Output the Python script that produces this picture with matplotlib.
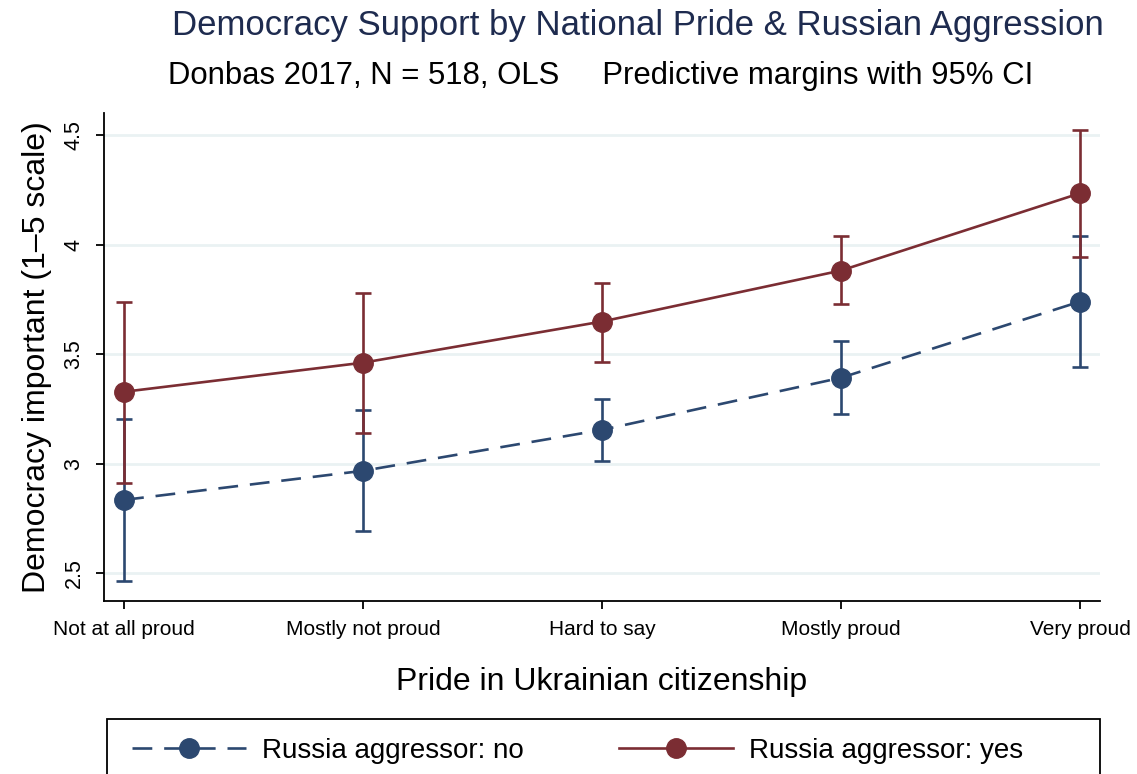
import matplotlib
matplotlib.use("Agg")
from matplotlib import pyplot as plt
from matplotlib.lines import Line2D
from matplotlib.patches import Rectangle

plt.rcParams['font.family'] = ['Liberation Sans', 'DejaVu Sans']

# data
categories = ['Not at all proud', 'Mostly not proud', 'Hard to say', 'Mostly proud', 'Very proud']
no_mean = [2.834, 2.967, 3.154, 3.392, 3.740]
no_low = [2.463, 2.692, 3.013, 3.228, 3.443]
no_high = [3.205, 3.246, 3.296, 3.562, 4.038]
yes_mean = [3.328, 3.461, 3.649, 3.882, 4.235]
yes_low = [2.912, 3.141, 3.466, 3.727, 3.946]
yes_high = [3.740, 3.781, 3.827, 4.042, 4.523]
yticks = [2.5, 3, 3.5, 4, 4.5]
ytick_labels = ['2.5', '3', '3.5', '4', '4.5']

blue = '#2c4870'
red = '#7b2d33'

fig = plt.figure(figsize=(11.37, 7.74), dpi=100)
ax = fig.add_axes([0.0915, 0.2235, 0.876, 0.630])

x = list(range(len(categories)))

def draw(mean, low, high, color, ls):
    err = [[m - l for m, l in zip(mean, low)], [h - m for m, h in zip(mean, high)]]
    ax.errorbar(x, mean, yerr=err, fmt='none', ecolor=color, elinewidth=1.9,
                capsize=6, capthick=1.9, zorder=3)
    line, = ax.plot(x, mean, color=color, lw=1.9, ls=ls, marker='o', markersize=14,
                    markerfacecolor=color, markeredgecolor=color, zorder=4)
    return line

ln_no = draw(no_mean, no_low, no_high, blue, '--')
ln_no.set_dashes((7.5, 4.5))
ln_yes = draw(yes_mean, yes_low, yes_high, red, '-')

ax.set_xlim(-0.084, 4.084)
ax.set_ylim(2.372, 4.6)
ax.set_xticks(x)
ax.set_xticklabels(categories, fontsize=15)
ax.set_yticks(yticks)
ax.set_yticklabels(ytick_labels, fontsize=15.5, rotation=90, va='center')
ax.grid(axis='y', color='#eaf2f3', lw=2)
ax.set_axisbelow(True)
for s in ['top', 'right']:
    ax.spines[s].set_visible(False)
for s in ['left', 'bottom']:
    ax.spines[s].set_linewidth(1.3)
ax.tick_params(length=6, width=1.3, pad=8)

ax.set_xlabel('Pride in Ukrainian citizenship', fontsize=23, labelpad=20)
ax.set_ylabel('Democracy important (1\u20135 scale)', fontsize=23, labelpad=8)

fig.text(0.561, 0.967, 'Democracy Support by National Pride & Russian Aggression',
         ha='center', va='center', fontsize=25, color='#1e2b4f')
fig.text(0.528, 0.902, 'Donbas 2017, N = 518, OLS     Predictive margins with 95% CI',
         ha='center', va='center', fontsize=22.4, color='black')

# legend box (cut off by the figure edge, as in the reference)
fig.patches.append(Rectangle((107 / 1137, -0.05), (1100 - 107) / 1137, 0.05 + 1 - 719 / 774,
                             transform=fig.transFigure, fill=False, edgecolor='black', lw=1.3))
h_no = Line2D([], [], color=blue, lw=1.9, marker='o', markersize=14, dashes=(7.5, 4.5))
h_yes = Line2D([], [], color=red, lw=1.9, marker='o', markersize=14)
fig.legend([h_no, h_yes], ['Russia aggressor: no', 'Russia aggressor: yes'],
           loc='center', bbox_to_anchor=(0.508, 1 - 751 / 774), ncol=2, frameon=False,
           fontsize=20, handlelength=4.1, numpoints=1, columnspacing=3.4, handletextpad=0.6)

fig.savefig('out.png', dpi=100)
